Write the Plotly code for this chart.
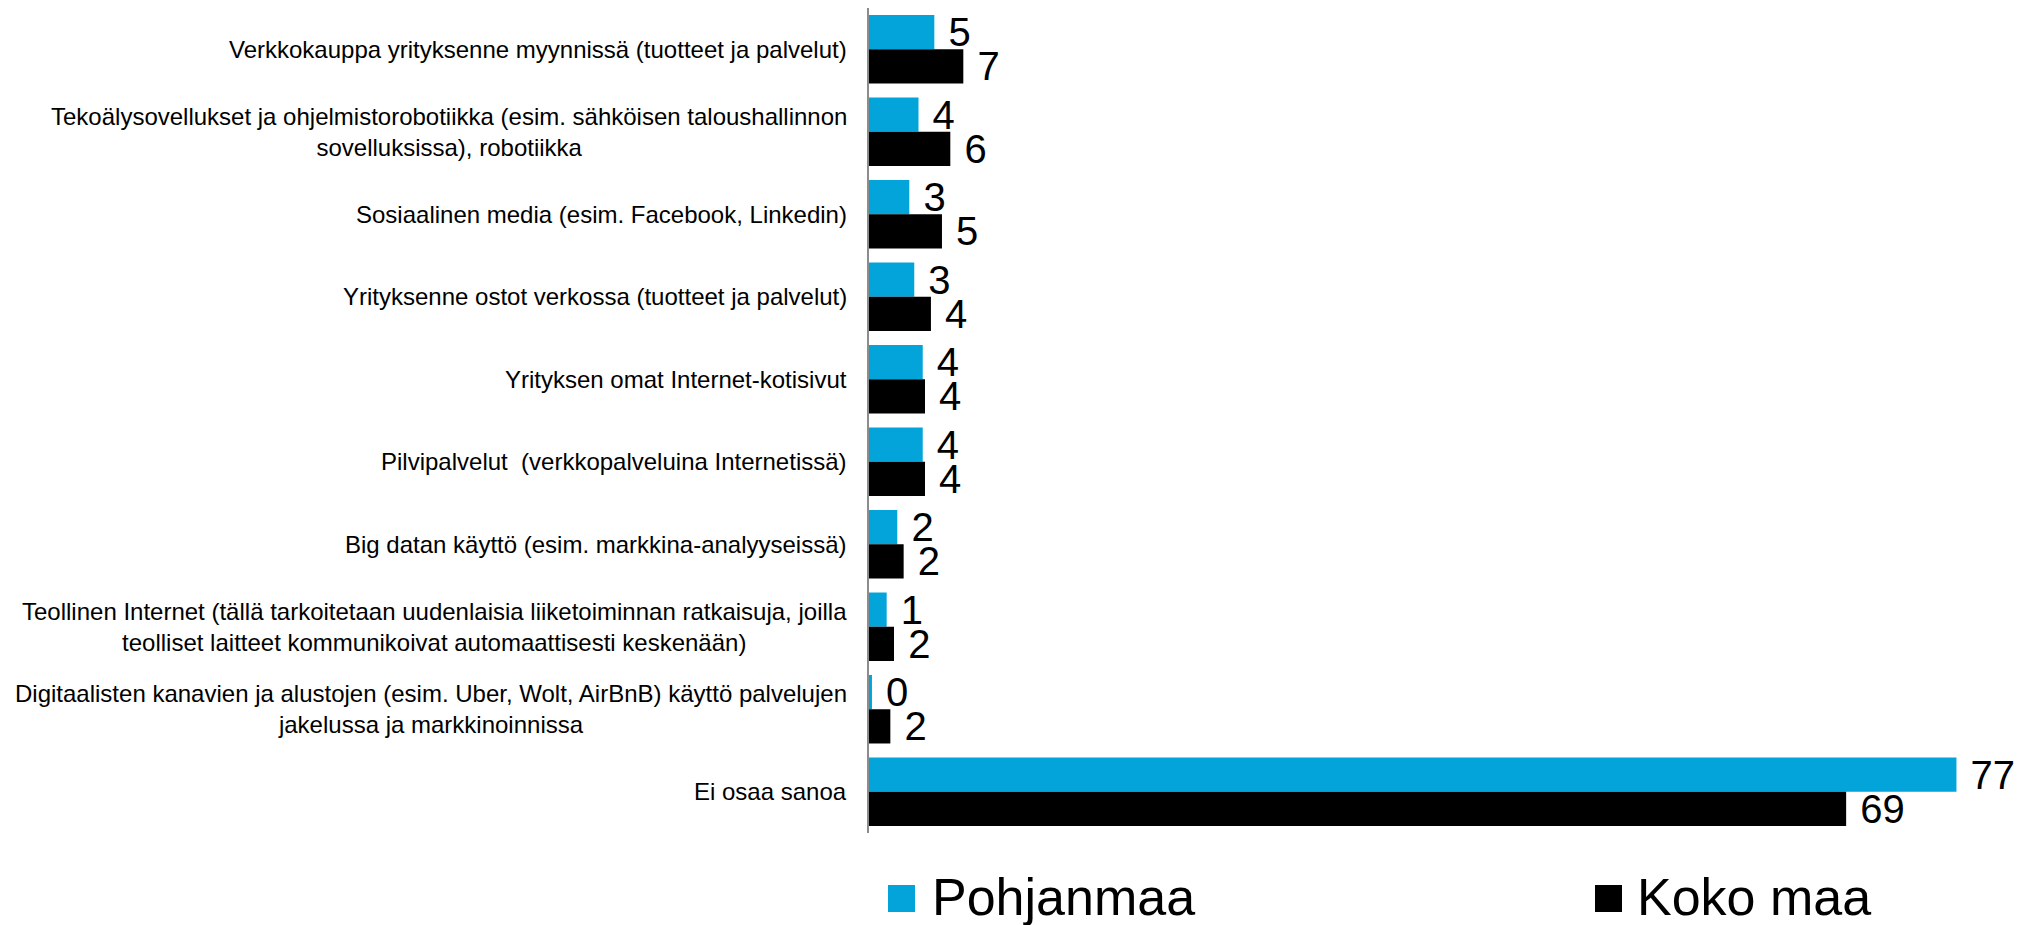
import plotly.graph_objects as go

# ---------------- data ----------------
categories = [
    "Verkkokauppa yrityksenne myynnissä (tuotteet ja palvelut)",
    "Tekoälysovellukset ja ohjelmistorobotiikka (esim. sähköisen taloushallinnon sovelluksissa), robotiikka",
    "Sosiaalinen media (esim. Facebook, Linkedin)",
    "Yrityksenne ostot verkossa (tuotteet ja palvelut)",
    "Yrityksen omat Internet-kotisivut",
    "Pilvipalvelut  (verkkopalveluina Internetissä)",
    "Big datan käyttö (esim. markkina-analyyseissä)",
    "Teollinen Internet (tällä tarkoitetaan uudenlaisia liiketoiminnan ratkaisuja, joilla teolliset laitteet kommunikoivat automaattisesti keskenään)",
    "Digitaalisten kanavien ja alustojen (esim. Uber, Wolt, AirBnB) käyttö palvelujen jakelussa ja markkinoinnissa",
    "Ei osaa sanoa",
]
category_labels = [
    "Verkkokauppa yrityksenne myynnissä (tuotteet ja palvelut)",
    "Tekoälysovellukset ja ohjelmistorobotiikka (esim. sähköisen taloushallinnon<br>sovelluksissa), robotiikka",
    "Sosiaalinen media (esim. Facebook, Linkedin)",
    "Yrityksenne ostot verkossa (tuotteet ja palvelut)",
    "Yrityksen omat Internet-kotisivut",
    "Pilvipalvelut  (verkkopalveluina Internetissä)",
    "Big datan käyttö (esim. markkina-analyyseissä)",
    "Teollinen Internet (tällä tarkoitetaan uudenlaisia liiketoiminnan ratkaisuja, joilla<br>teolliset laitteet kommunikoivat automaattisesti keskenään)",
    "Digitaalisten kanavien ja alustojen (esim. Uber, Wolt, AirBnB) käyttö palvelujen<br>jakelussa ja markkinoinnissa",
    "Ei osaa sanoa",
]
series_names = ["Pohjanmaa", "Koko maa"]
pohjanmaa = [4.62, 3.5, 2.85, 3.20, 3.80, 3.80, 2.00, 1.25, 0.21, 76.9]
koko_maa = [6.67, 5.75, 5.16, 4.38, 3.96, 3.96, 2.45, 1.77, 1.51, 69.1]
pohjanmaa_labels = ["5", "4", "3", "3", "4", "4", "2", "1", "0", "77"]
koko_maa_labels = ["7", "6", "5", "4", "4", "4", "2", "2", "2", "69"]

# ---------------- style ----------------
FONT = "Liberation Sans, Arial, sans-serif"
colors = ["#02A4D9", "#000000"]
OFF = 8                      # default page body margin
W, H = 2023 - OFF, 925 - OFF
ML, MR, MT, MB = 869 - OFF, 10, 0, 92
PW, PH = W - ML - MR, H - MT - MB
X_MAX = 80.9


def px_x(p):
    return (p - OFF - ML) / PW


def px_y(p):
    return (H - MB - (p - OFF)) / PH


fig = go.Figure()
for name, vals, labs, col in zip(series_names, [pohjanmaa, koko_maa],
                                 [pohjanmaa_labels, koko_maa_labels], colors):
    fig.add_trace(go.Bar(
        name=name,
        y=categories,
        x=vals,
        orientation="h",
        marker=dict(color=col, line=dict(width=0)),
        text=["\u00a0" + t for t in labs],
        textposition="outside",
        textfont=dict(family=FONT, size=40, color="#000000"),
        constraintext="none",
        cliponaxis=False,
        showlegend=False,
        hoverinfo="skip",
    ))

annotations = []
for cat, lab in zip(categories, category_labels):
    annotations.append(dict(
        x=0, xref="paper", y=cat, yref="y",
        xanchor="right", yanchor="middle", xshift=-20,
        text=lab, align="center", showarrow=False,
        font=dict(family=FONT, size=24, color="#000000"),
    ))

# custom legend (large squares like the reference)
legend_items = [
    (series_names[0], colors[0], 888, 930),
    (series_names[1], colors[1], 1595, 1635),
]
shapes = []
for name, col, sq_x, tx_x in legend_items:
    shapes.append(dict(
        type="rect", xref="paper", yref="paper",
        x0=px_x(sq_x), x1=px_x(sq_x + 27), y0=px_y(912), y1=px_y(885),
        fillcolor=col, line=dict(width=0),
    ))
    annotations.append(dict(
        x=px_x(tx_x), xref="paper", y=px_y(897), yref="paper",
        xanchor="left", yanchor="middle", text=name, showarrow=False,
        font=dict(family=FONT, size=52, color="#000000"),
    ))

fig.update_layout(
    width=W, height=H,
    margin=dict(l=ML, r=MR, t=MT, b=MB),
    paper_bgcolor="white", plot_bgcolor="white",
    barmode="group", bargap=0.17, bargroupgap=0,
    showlegend=False,
    annotations=annotations,
    shapes=shapes,
    xaxis=dict(range=[0, X_MAX], showgrid=False, zeroline=False,
               showticklabels=False, showline=False, ticks=""),
    yaxis=dict(type="category", autorange="reversed", showgrid=False,
               zeroline=False, showticklabels=False, ticks="",
               showline=True, linecolor="#8c8c8c", linewidth=2),
)

fig.write_html("out.html")
